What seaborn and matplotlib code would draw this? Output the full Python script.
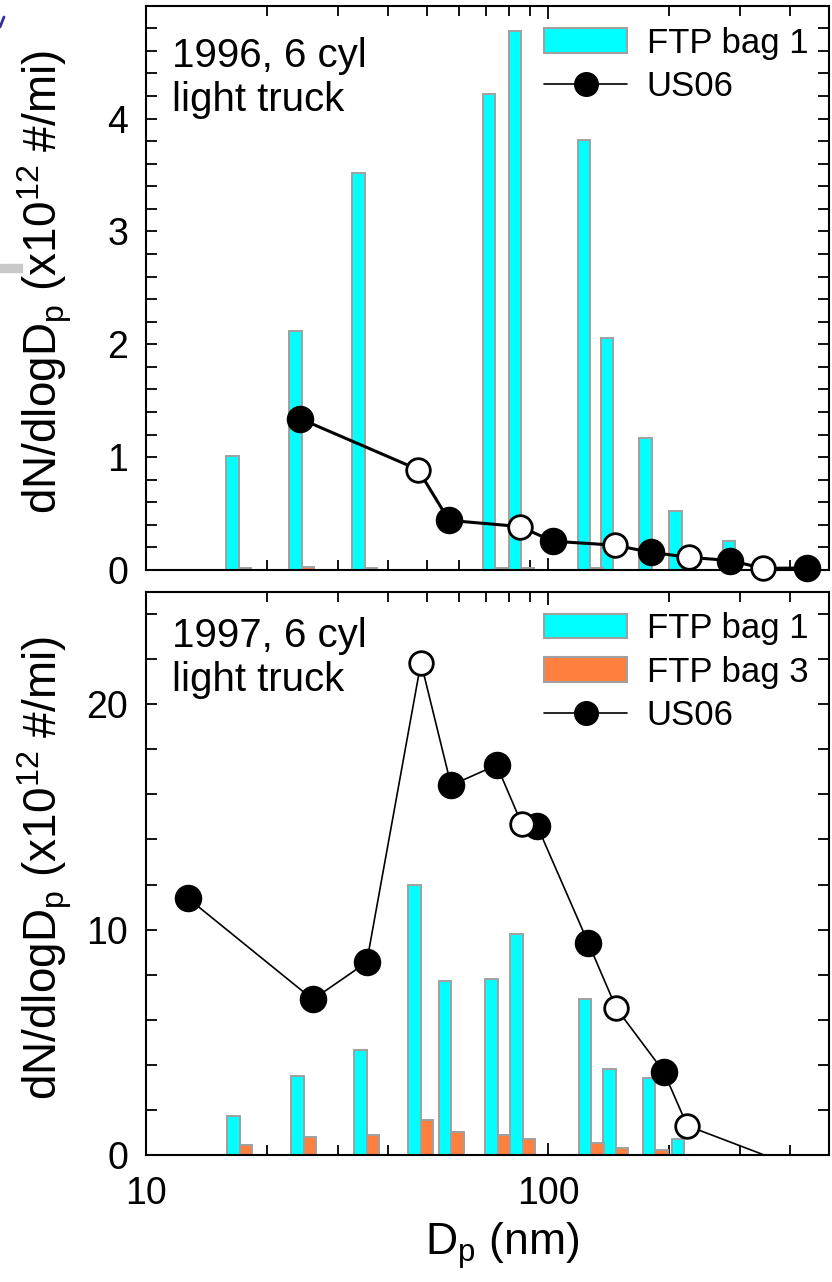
import numpy as np
import pandas as pd
import matplotlib
matplotlib.use('Agg')
import matplotlib.pyplot as plt
import seaborn as sns
from matplotlib.ticker import LogLocator, FuncFormatter, MultipleLocator, NullFormatter
from matplotlib.patches import Patch, Rectangle
from matplotlib.lines import Line2D

# ---- data ----
# 1996 light truck
dp_96 = [17.0, 24.4, 35.0, 74.0, 85.8, 127.3, 145.5, 181.0, 215.0, 292.0]
bag1_96 = [1.01, 2.12, 3.52, 4.22, 4.78, 3.81, 2.06, 1.17, 0.52, 0.26]
bag3_96 = [0.02, 0.03, 0.02, 0.02, 0.02, 0.02, 0.0, 0.0, 0.0, 0.0]
us_dp_96 = [24.2, 47.5, 56.7, 85.1, 102.8, 146.6, 180.0, 224.8, 283.7, 342.8, 441.0]
us_96 = [1.34, 0.89, 0.44, 0.385, 0.255, 0.22, 0.157, 0.112, 0.084, 0.015, 0.018]
kind_96 = ['f', 'o', 'f', 'o', 'f', 'o', 'f', 'o', 'f', 'o', 'f']

# 1997 light truck
dp_97 = [17.1, 24.7, 35.4, 48.3, 57.4, 75.0, 86.5, 128.0, 147.5, 185.0, 218.0]
bag1_97 = [1.75, 3.5, 4.65, 12.0, 7.7, 7.8, 9.8, 6.9, 3.8, 3.4, 0.7]
bag3_97 = [0.45, 0.78, 0.88, 1.57, 1.03, 0.87, 0.73, 0.55, 0.3, 0.22, 0.0]
us_dp_97 = [12.7, 26.0, 35.4, 48.3, 57.4, 74.5, 86.0, 94.0, 126.0, 148.0, 194.0, 222.0, 345.0]
us_97 = [11.4, 6.9, 8.55, 21.85, 16.4, 17.3, 14.7, 14.6, 9.4, 6.5, 3.7, 1.3, 0.0]
kind_97 = ['f', 'f', 'f', 'o', 'f', 'f', 'o', 'f', 'f', 'o', 'f', 'o', 'n']

CYAN = '#00FFFF'
ORANGE = '#FF7F3F'
EDGE = '#A0A0A0'
BW = 0.031  # bar width in decades

sns.set_theme(style='ticks')
plt.rcParams['font.family'] = ['Liberation Sans', 'DejaVu Sans']
plt.rcParams['mathtext.fontset'] = 'custom'
plt.rcParams['mathtext.rm'] = 'Liberation Sans'
plt.rcParams['text.color'] = 'black'
plt.rcParams['axes.labelcolor'] = 'black'
plt.rcParams['xtick.color'] = 'black'
plt.rcParams['ytick.color'] = 'black'

fig = plt.figure(figsize=(8.32, 12.82), dpi=100)
ax1 = fig.add_axes([146/832, 1-570/1282, 683/832, 564.3/1282])
ax2 = fig.add_axes([146/832, 1-1155/1282, 683/832, 563.5/1282])


def bars(ax, dp, vals, color, left):
    dp = np.asarray(dp)
    lo = dp * 10**(-BW) if left else dp
    hi = dp if left else dp * 10**BW
    ax.bar(lo, vals, width=hi - lo, align='edge', color=color,
           edgecolor=EDGE, linewidth=1.4, zorder=2)


def us06(ax, dp, vals, kind, lw):
    df = pd.DataFrame({'dp': dp, 'v': vals, 'k': kind})
    sns.lineplot(data=df, x='dp', y='v', ax=ax, color='black', lw=lw,
                 zorder=3, clip_on=False)
    f = df[df.k == 'f']
    o = df[df.k == 'o']
    sns.scatterplot(data=f, x='dp', y='v', ax=ax, s=18**2, color='black',
                    edgecolor='black', linewidth=1.8, zorder=4, clip_on=False)
    sns.scatterplot(data=o, x='dp', y='v', ax=ax, s=17**2, color='white',
                    edgecolor='black', linewidth=2.0, zorder=4, clip_on=False)


bars(ax1, dp_96, bag1_96, CYAN, True)
bars(ax1, dp_96, bag3_96, ORANGE, False)
us06(ax1, us_dp_96, us_96, kind_96, 2.2)

bars(ax2, dp_97, bag1_97, CYAN, True)
bars(ax2, dp_97, bag3_97, ORANGE, False)
us06(ax2, us_dp_97, us_97, kind_97, 1.2)

ylab = r'dN/dlogD$_\mathregular{p}$ (x10$^\mathregular{12}$ #/mi)'
for ax in (ax1, ax2):
    ax.set_xscale('log')
    ax.set_xlim(10, 500)
    ax.xaxis.set_major_locator(LogLocator(base=10))
    ax.xaxis.set_minor_locator(LogLocator(base=10, subs=np.arange(2, 10)))
    ax.xaxis.set_major_formatter(FuncFormatter(lambda v, p: f'{v:g}'))
    ax.xaxis.set_minor_formatter(NullFormatter())
    ax.tick_params(which='both', direction='in', top=True, right=True,
                   width=1.3, color='black', labelcolor='black', labelsize=27)
    ax.tick_params(which='major', length=9)
    ax.tick_params(which='minor', length=7)
    ax.tick_params(axis='y', which='both', length=8, pad=13)
    ax.tick_params(axis='x', pad=15)
    for s in ax.spines.values():
        s.set_linewidth(1.5)
        s.set_color('black')
    ax.set_ylabel(ylab, fontsize=33)
    ax.yaxis.set_label_coords(-0.106, 0.51)

ax1.set_ylim(0, 5)
ax1.yaxis.set_major_locator(MultipleLocator(1))
ax1.yaxis.set_minor_locator(MultipleLocator(0.2))
ax1.set_yticks([0, 1, 2, 3, 4])
ax1.tick_params(labelbottom=False)
ax1.set_xlabel('')

ax2.set_ylim(0, 25)
ax2.set_yticks([0, 10, 20])
ax2.yaxis.set_minor_locator(MultipleLocator(2))
ax2.set_xlabel(r'D$_\mathregular{p}$ (nm)', fontsize=32)
ax2.xaxis.set_label_coords(0.522, -0.115)

ax1.text(0.038, 0.945, '1996, 6 cyl\nlight truck', transform=ax1.transAxes,
         fontsize=29, va='top', ha='left', linespacing=1.22)
ax2.text(0.038, 0.955, '1997, 6 cyl\nlight truck', transform=ax2.transAxes,
         fontsize=29, va='top', ha='left', linespacing=1.2)

h_b1 = Patch(facecolor=CYAN, edgecolor=EDGE, linewidth=1.5, label='FTP bag 1')
h_b3 = Patch(facecolor=ORANGE, edgecolor=EDGE, linewidth=1.5, label='FTP bag 3')
h_us = Line2D([], [], color='black', lw=1.2, marker='o', ms=17,
              mfc='black', mec='black', label='US06')
leg_kw = dict(loc='upper right', bbox_to_anchor=(1.0, 1.0), frameon=False,
              fontsize=25, handlelength=2.4, handletextpad=0.55,
              labelspacing=0.3, borderaxespad=0.2)
ax1.legend(handles=[h_b1, h_us], **leg_kw)
ax2.legend(handles=[h_b1, h_b3, h_us], **leg_kw)

# small slide artifacts at the left edge
fig.patches.append(Rectangle((0, 1-272/1282), 22/832, 8/1282,
                             transform=fig.transFigure, color='#C8C8C8'))
fig.add_artist(Line2D([0, 4/832], [1-27/1282, 1-17/1282],
                      color='#3030A0', lw=2, transform=fig.transFigure))

fig.savefig('out.png', dpi=100)
